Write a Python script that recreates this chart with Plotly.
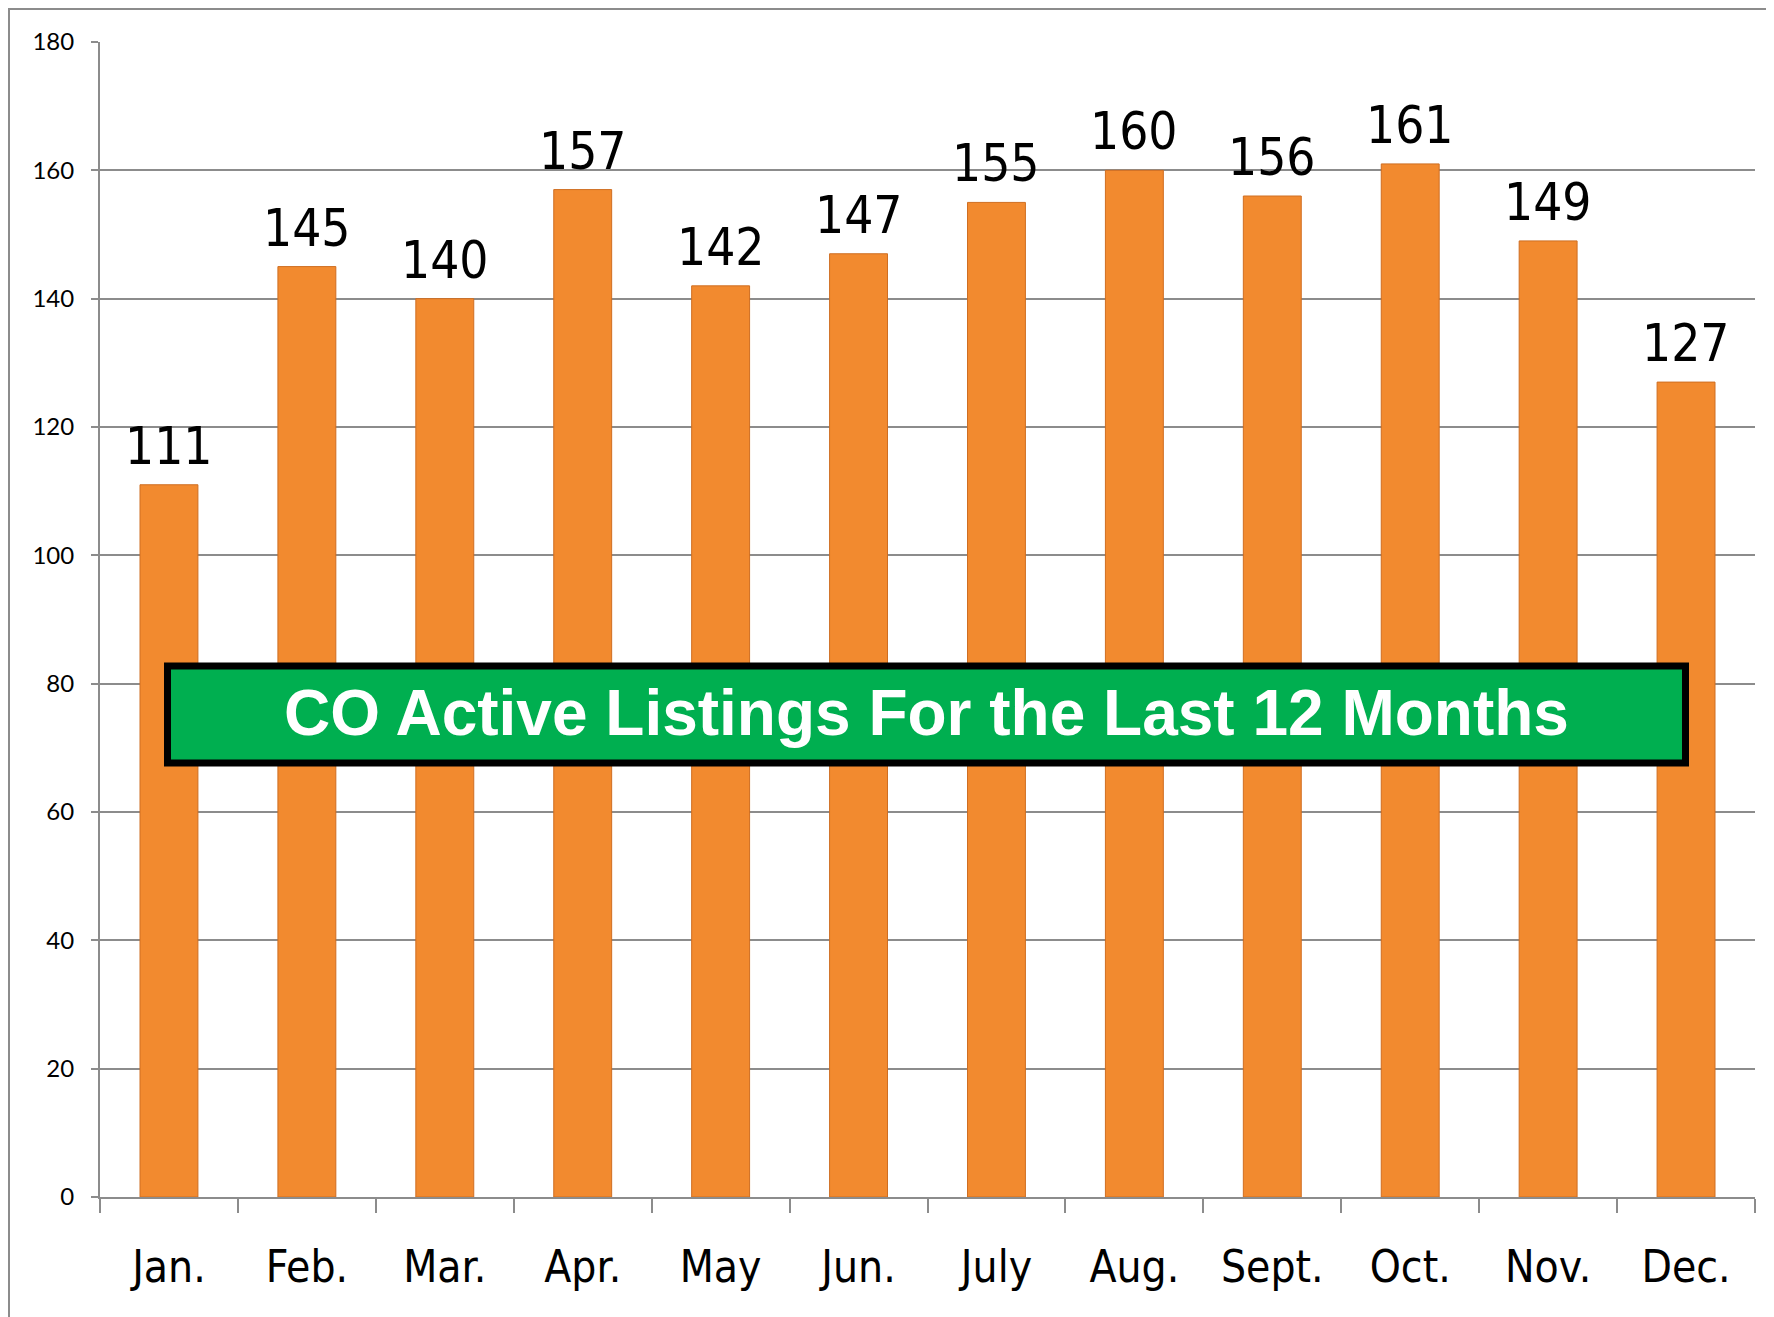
import plotly.graph_objects as go

months = ["Jan.", "Feb.", "Mar.", "Apr.", "May", "Jun.", "July", "Aug.", "Sept.", "Oct.", "Nov.", "Dec."]
listings = [111, 145, 140, 157, 142, 147, 155, 160, 156, 161, 149, 127]
y_ticks = [0, 20, 40, 60, 80, 100, 120, 140, 160, 180]
title_text = "CO Active Listings For the Last 12 Months"

W, H = 1774, 1317
OFF = 8  # page body margin
# plot area in page pixels
PX0, PX1, PY0, PY1 = 100, 1755, 42, 1197
L = PX0 - OFF
T = PY0 - OFF
R = W - (PX1 - OFF)
B = H - (PY1 - OFF)

narrow = "DejaVu Sans Condensed, Liberation Sans Narrow, Arial Narrow, Liberation Sans, sans-serif"

fig = go.Figure()
fig.add_trace(go.Bar(
    x=months, y=listings,
    width=0.42,
    marker=dict(color="#F28A2F", line=dict(color="#CF6E22", width=1)),
    hoverinfo="x+y",
))

for m, v in zip(months, listings):
    fig.add_annotation(x=m, y=v, text=str(v), showarrow=False,
                       yanchor="bottom", yshift=7,
                       font=dict(family=narrow, size=51, color="black"))

pw = PX1 - PX0
ph = PY1 - PY0
def px_x(p):
    return (p - PX0) / pw
def px_y(p):
    return (PY1 - p) / ph

fig.add_shape(type="rect", xref="paper", yref="paper",
              x0=px_x(167.5), x1=px_x(1685.5), y0=px_y(763), y1=px_y(666),
              fillcolor="#00AF50", line=dict(color="black", width=7), layer="above")
fig.add_annotation(xref="paper", yref="paper", x=px_x(926), y=px_y(713),
                   text="<b>" + title_text + "</b>", showarrow=False,
                   xanchor="center", yanchor="middle",
                   font=dict(family="Liberation Sans, Arial, sans-serif", size=64, color="white"))

# outer frame
fig.add_shape(type="rect", xref="paper", yref="paper",
              x0=px_x(9), x1=px_x(1800), y0=px_y(1340), y1=px_y(9),
              line=dict(color="#8C8C8C", width=2), fillcolor="rgba(0,0,0,0)", layer="below")

fig.update_layout(
    width=W, height=H,
    margin=dict(l=L, r=R, t=T, b=B),
    plot_bgcolor="white", paper_bgcolor="white",
    showlegend=False,
)
fig.update_xaxes(
    type="category",
    showline=True, linecolor="#8C8C8C", linewidth=2,
    ticks="outside", tickson="boundaries", ticklen=14, tickwidth=2, tickcolor="#8C8C8C",
    tickfont=dict(family=narrow, size=44, color="black"),
    ticklabelstandoff=30,
    showgrid=False,
)
fig.update_yaxes(
    range=[0, 180], tickvals=y_ticks,
    showline=True, linecolor="#8C8C8C", linewidth=2,
    ticks="outside", ticklen=7, tickwidth=2, tickcolor="#8C8C8C",
    showgrid=True, gridcolor="#8C8C8C", gridwidth=2,
    tickfont=dict(family="Lato, Noto Sans, sans-serif", size=24, color="black"),
    ticklabelstandoff=12,
    zeroline=False,
)

fig.write_html("out.html")
